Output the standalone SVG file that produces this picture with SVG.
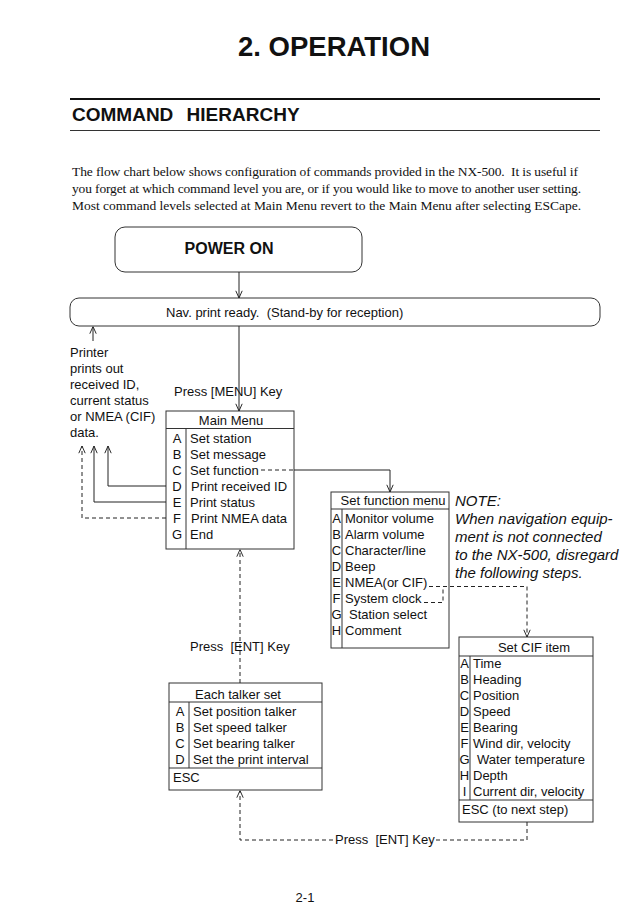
<svg xmlns="http://www.w3.org/2000/svg" width="640" height="923" viewBox="0 0 640 923">
<style>
text{font-family:"Liberation Sans",Arial,sans-serif;fill:#111;}
.t13{font-size:13px;}
.ser{font-family:"Liberation Serif","Times New Roman",serif;font-size:13.5px;}
.box{fill:none;stroke:#333;stroke-width:1;}
.ln{fill:none;stroke:#222;stroke-width:1;}
.dash{fill:none;stroke:#222;stroke-width:1;stroke-dasharray:4 3;}
.mid{text-anchor:middle;}
.it{font-style:italic;font-size:15px;}
</style>
<defs>
<marker id="arr" viewBox="0 0 10 10" refX="10" refY="5" markerWidth="8" markerHeight="8" markerUnits="userSpaceOnUse" orient="auto">
<path d="M1,1 L10,5 L1,9" fill="none" stroke="#222" stroke-width="1.2"/>
</marker>
</defs>
<rect width="640" height="923" fill="#fff"/>

<g id="title">
<text x="334" y="56" class="mid" style="font-size:27.5px;font-weight:bold;">2. OPERATION</text>
<line x1="70" y1="99" x2="600" y2="99" stroke="#111" stroke-width="2"/>
<text x="72" y="121" style="font-size:19px;font-weight:bold;word-spacing:8px;">COMMAND HIERARCHY</text>
<line x1="70" y1="130.5" x2="600" y2="130.5" stroke="#333" stroke-width="1.2"/>
</g>

<g id="intro">
<text class="ser" x="72" y="176" textLength="506" lengthAdjust="spacing" xml:space="preserve">The flow chart below shows configuration of commands provided in the NX-500.  It is useful if</text>
<text class="ser" x="72" y="193" textLength="509" lengthAdjust="spacing">you forget at which command level you are, or if you would like to move to another user setting.</text>
<text class="ser" x="72" y="210" textLength="509" lengthAdjust="spacing">Most command levels selected at Main Menu revert to the Main Menu after selecting ESCape.</text>
</g>

<g id="power-on">
<rect class="box" x="115" y="227" width="247" height="45" rx="10"/>
<text x="229" y="254" class="mid" style="font-size:16px;font-weight:bold;">POWER ON</text>
</g>

<g id="nav-ready">
<rect class="box" x="70" y="298" width="530" height="28" rx="9"/>
<text class="t13" x="166" y="317" xml:space="preserve">Nav. print ready.  (Stand-by for reception)</text>
</g>

<g id="printer-note">
<text class="t13" x="70" y="357">Printer</text>
<text class="t13" x="70" y="373">prints out</text>
<text class="t13" x="70" y="389">received ID,</text>
<text class="t13" x="70" y="405">current status</text>
<text class="t13" x="70" y="421">or NMEA (CIF)</text>
<text class="t13" x="70" y="437">data.</text>
</g>

<g id="main-menu">
<rect class="box" x="166" y="411" width="128" height="138"/>
<line class="box" x1="166" y1="428.5" x2="294" y2="428.5"/>
<line class="box" x1="186" y1="428.5" x2="186" y2="549"/>
<text class="t13 mid" x="231" y="425">Main Menu</text>
<g class="t13">
<text class="mid" x="177" y="443">A</text><text x="190" y="443">Set station</text>
<text class="mid" x="177" y="459">B</text><text x="190" y="459">Set message</text>
<text class="mid" x="177" y="475">C</text><text x="190" y="475">Set function</text>
<text class="mid" x="177" y="491">D</text><text x="191" y="491">Print received ID</text>
<text class="mid" x="177" y="507">E</text><text x="190" y="507">Print status</text>
<text class="mid" x="177" y="523">F</text><text x="191" y="523">Print NMEA data</text>
<text class="mid" x="177" y="539">G</text><text x="190" y="539">End</text>
</g>
</g>

<g id="set-function-menu">
<rect class="box" x="331" y="492" width="118" height="156"/>
<line class="box" x1="331" y1="509" x2="449" y2="509"/>
<line class="box" x1="342" y1="509" x2="342" y2="648"/>
<text class="t13 mid" x="393" y="505">Set function menu</text>
<g class="t13">
<text class="mid" x="336.5" y="523">A</text><text x="345" y="523">Monitor volume</text>
<text class="mid" x="336.5" y="539">B</text><text x="345" y="539">Alarm volume</text>
<text class="mid" x="336.5" y="555">C</text><text x="345" y="555">Character/line</text>
<text class="mid" x="336.5" y="571">D</text><text x="345" y="571">Beep</text>
<text class="mid" x="336.5" y="587">E</text><text x="345" y="587">NMEA(or CIF)</text>
<text class="mid" x="336.5" y="603">F</text><text x="345" y="603">System clock</text>
<text class="mid" x="336.5" y="619">G</text><text x="349" y="619">Station select</text>
<text class="mid" x="336.5" y="635">H</text><text x="345" y="635">Comment</text>
</g>
</g>

<g id="note">
<text class="it" x="455" y="506">NOTE:</text>
<text class="it" x="455" y="524">When navigation equip-</text>
<text class="it" x="455" y="542">ment is not connected</text>
<text class="it" x="455" y="560">to the NX-500, disregard</text>
<text class="it" x="455" y="578">the following steps.</text>
</g>

<g id="set-cif-item">
<rect class="box" x="459" y="637" width="134" height="185"/>
<line class="box" x1="459" y1="656" x2="593" y2="656"/>
<line class="box" x1="470" y1="656" x2="470" y2="800"/>
<line class="box" x1="459" y1="800" x2="593" y2="800"/>
<text class="t13 mid" x="534" y="652">Set CIF item</text>
<g class="t13">
<text class="mid" x="464.5" y="668">A</text><text x="473" y="668">Time</text>
<text class="mid" x="464.5" y="684">B</text><text x="473" y="684">Heading</text>
<text class="mid" x="464.5" y="700">C</text><text x="473" y="700">Position</text>
<text class="mid" x="464.5" y="716">D</text><text x="473" y="716">Speed</text>
<text class="mid" x="464.5" y="732">E</text><text x="473" y="732">Bearing</text>
<text class="mid" x="464.5" y="748">F</text><text x="473" y="748">Wind dir, velocity</text>
<text class="mid" x="464.5" y="764">G</text><text x="477" y="764">Water temperature</text>
<text class="mid" x="464.5" y="780">H</text><text x="473" y="780">Depth</text>
<text class="mid" x="464.5" y="796">I</text><text x="473" y="796">Current dir, velocity</text>
<text x="462" y="814">ESC (to next step)</text>
</g>
</g>

<g id="each-talker-set">
<rect class="box" x="169" y="683" width="153" height="107"/>
<line class="box" x1="169" y1="702" x2="322" y2="702"/>
<line class="box" x1="189" y1="702" x2="189" y2="768"/>
<line class="box" x1="169" y1="768" x2="322" y2="768"/>
<text class="t13 mid" x="238" y="699">Each talker set</text>
<g class="t13">
<text class="mid" x="180" y="716">A</text><text x="193" y="716">Set position talker</text>
<text class="mid" x="180" y="732">B</text><text x="193" y="732">Set speed talker</text>
<text class="mid" x="180" y="748">C</text><text x="193" y="748">Set bearing talker</text>
<text class="mid" x="180" y="764">D</text><text x="193" y="764">Set the print interval</text>
<text x="173" y="782">ESC</text>
</g>
</g>

<g id="connectors">
<line class="ln" x1="239" y1="272" x2="239" y2="298" marker-end="url(#arr)"/>
<line class="ln" x1="93" y1="341" x2="93" y2="326.5" marker-end="url(#arr)"/>
<line class="ln" x1="239" y1="326" x2="239" y2="411" marker-end="url(#arr)"/>
<polyline class="ln" points="166,486 108,486 108,446" marker-end="url(#arr)"/>
<polyline class="ln" points="166,502 94,502 94,446" marker-end="url(#arr)"/>
<polyline class="dash" points="166,518 82,518 82,446" marker-end="url(#arr)"/>
<line class="dash" x1="261" y1="470" x2="294" y2="470"/>
<polyline class="ln" points="294,470 390,470 390,492" marker-end="url(#arr)"/>
<polyline class="dash" points="429,586.5 527,586.5 527,637" marker-end="url(#arr)"/>
<polyline class="dash" points="424,602.5 443,602.5 443,586.5"/>
<line class="dash" x1="240" y1="683" x2="240" y2="549.5" marker-end="url(#arr)"/>
<polyline class="dash" points="333,840 240,840 240,790.5" marker-end="url(#arr)"/>
<polyline class="dash" points="436,840 527,840 527,822"/>
</g>

<g id="labels">
<text class="t13" x="174" y="396">Press [MENU] Key</text>
<text class="t13" x="190" y="651" xml:space="preserve">Press  [ENT] Key</text>
<text class="t13" x="335" y="844" xml:space="preserve">Press  [ENT] Key</text>
</g>

<g id="page-number">
<text class="t13 mid" x="305" y="902">2-1</text>
</g>
</svg>
